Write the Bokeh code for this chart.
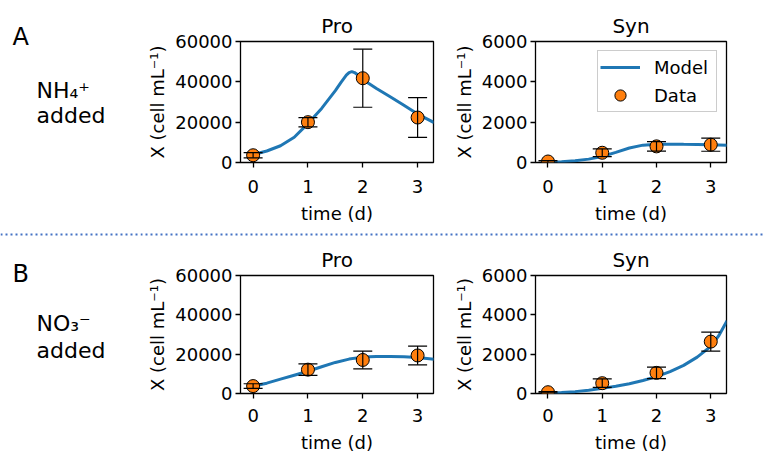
from bokeh.plotting import figure
from bokeh.layouts import row, column
from bokeh.models import (Range1d, FixedTicker, Whisker, TeeHead, ColumnDataSource,
                          Legend, LegendItem, Span)
from bokeh.core.properties import value
from bokeh.embed import file_html
from bokeh.resources import INLINE

FONT = "DejaVu Sans"

# ---------------- data ----------------
days = [0, 1, 2, 3]
x_ticks = [0, 1, 2, 3]
pro_ticks = [0, 20000, 40000, 60000]
syn_ticks = [0, 2000, 4000, 6000]

pro_nh4_mean = [3600, 20000, 41800, 22300]
pro_nh4_err = [1300, 2300, 14400, 9850]
syn_nh4_mean = [50, 483, 800, 883]
syn_nh4_err = [40, 190, 240, 325]
pro_no3_mean = [3770, 12130, 17050, 19340]
pro_no3_err = [1200, 2900, 4500, 4750]
syn_no3_mean = [66, 524, 1049, 2639]
syn_no3_err = [30, 215, 295, 480]

pro_nh4_model_t = [0, 0.25, 0.5, 0.75, 1.0, 1.25, 1.5, 1.6, 1.7, 1.75, 1.8, 1.85, 1.9, 2.0, 2.25, 2.5, 2.75, 3.0, 3.3]
pro_nh4_model_y = [3900, 5700, 8300, 12500, 19300, 26800, 35600, 39600, 43300, 44600, 45100, 44600, 43600, 41200, 36700, 32600, 28400, 24000, 19800]
syn_nh4_model_t = [0, 0.25, 0.5, 0.75, 1.0, 1.25, 1.5, 1.75, 2.0, 2.25, 2.5, 2.75, 3.0, 3.3]
syn_nh4_model_y = [10, 40, 85, 167, 300, 500, 717, 860, 905, 910, 900, 892, 883, 850]
pro_no3_model_t = [0, 0.25, 0.5, 0.75, 1.0, 1.25, 1.5, 1.75, 2.0, 2.25, 2.5, 2.75, 3.0, 3.3]
pro_no3_model_y = [3770, 5250, 7300, 9300, 11300, 13600, 15800, 17500, 18500, 18850, 18850, 18690, 18360, 17370]
syn_no3_model_t = [0, 0.25, 0.5, 0.75, 1.0, 1.25, 1.5, 1.75, 2.0, 2.25, 2.5, 2.75, 3.0, 3.15, 3.3]
syn_no3_model_y = [15, 45, 95, 165, 260, 370, 500, 660, 860, 1110, 1430, 1850, 2400, 2950, 3700]

panel_letters = ["A", "B"]
nutrients = ["NH\u2084\u207a", "NO\u2083\u207b"]


def panel(title, ymax, yticks, mt, my, mean, err, width, height,
          bl, br, bt, bb, tick_so, label_so, legend=False):
    p = figure(width=width, height=height, x_range=Range1d(-0.23, 3.29),
               y_range=Range1d(0, ymax), output_backend="svg", toolbar_location=None,
               min_border_left=bl, min_border_right=br, min_border_top=bt,
               min_border_bottom=bb, background_fill_color="white",
               border_fill_color="white")
    p.title.text = title
    p.title.align = "center"
    p.title.text_font = FONT
    p.title.text_font_size = "20px"
    p.title.text_font_style = "normal"
    p.title.text_color = "black"
    p.title.standoff = 7
    p.grid.visible = False
    p.outline_line_color = "black"
    p.outline_line_width = 1.3
    p.outline_line_alpha = 1
    p.xaxis.ticker = FixedTicker(ticks=x_ticks, minor_ticks=[])
    p.yaxis.ticker = FixedTicker(ticks=yticks, minor_ticks=[])
    p.xaxis.axis_label = "time (d)"
    p.yaxis.axis_label = "X (cell mL\u207b\u00b9)"
    for ax in p.axis:
        ax.axis_line_color = None
        ax.major_tick_line_color = "black"
        ax.major_tick_line_width = 1.3
        ax.major_tick_out = 5
        ax.major_tick_in = 0
        ax.minor_tick_line_color = None
        ax.major_label_text_font = FONT
        ax.major_label_text_font_size = "18px"
        ax.major_label_text_color = "black"
        ax.axis_label_text_font = FONT
        ax.axis_label_text_font_size = "18px"
        ax.axis_label_text_font_style = "normal"
        ax.axis_label_text_color = "black"
    p.xaxis.major_label_standoff = tick_so
    p.xaxis.axis_label_standoff = label_so
    p.yaxis.major_label_standoff = 3
    p.yaxis.axis_label_standoff = 4

    line_r = p.line(mt, my, line_color="#1f77b4", line_width=3)
    src = ColumnDataSource(dict(x=days, y=mean,
                                lo=[m - e for m, e in zip(mean, err)],
                                hi=[m + e for m, e in zip(mean, err)]))
    wh = Whisker(base="x", upper="hi", lower="lo", source=src,
                 line_color="black", line_width=1.2, level="glyph",
                 upper_head=TeeHead(size=19, line_color="black", line_width=1.2),
                 lower_head=TeeHead(size=19, line_color="black", line_width=1.2))
    p.add_layout(wh)
    sc = p.scatter("x", "y", source=src, size=13, fill_color="#ff7f0e",
                   line_color="black", line_width=1)
    if legend:
        lg = Legend(items=[LegendItem(label="Model", renderers=[line_r]),
                           LegendItem(label="Data", renderers=[sc])],
                    location="top_right")
        lg.margin = 9
        lg.padding = 2
        lg.spacing = 0
        lg.glyph_width = 40
        lg.glyph_height = 28
        lg.label_height = 28
        lg.label_width = 60
        lg.label_standoff = 14
        lg.label_text_font = FONT
        lg.label_text_font_size = "18px"
        lg.label_text_color = "black"
        lg.border_line_color = "#cccccc"
        lg.border_line_width = 1
        lg.border_line_alpha = 1
        lg.background_fill_alpha = 0.8
        p.add_layout(lg)
    return p


# left column: one figure whose data coordinates equal page pixels
lab = figure(width=140, height=455, x_range=Range1d(0, 140), y_range=Range1d(455, 0),
             output_backend="svg", toolbar_location=None, x_axis_type=None,
             y_axis_type=None, min_border=0, title=None)
lab.grid.visible = False
lab.outline_line_color = None
lab.text(x=[12, 12], y=[36, 273], text=panel_letters, text_font=value(FONT),
         text_font_size="24px", text_color="black", text_baseline="alphabetic")
lab.text(x=[36, 36, 36, 36], y=[90, 115, 323, 350],
         text=[nutrients[0], "added", nutrients[1], "added"], text_font=value(FONT),
         text_font_size="22px", text_color="black", text_baseline="alphabetic")
lab.add_layout(Span(location=234, dimension="width", line_color="#4472c4",
                    line_width=2, line_dash="2 3"))

# row A: page y 0..226, frame 41..162
H1 = 226
pa = panel("Pro", 60000, pro_ticks, pro_nh4_model_t, pro_nh4_model_y,
           pro_nh4_mean, pro_nh4_err, 310, H1, 100, 17, 41, 64, 12, 7)
sa = panel("Syn", 6000, syn_ticks, syn_nh4_model_t, syn_nh4_model_y,
           syn_nh4_mean, syn_nh4_err, 315, H1, 83, 39, 41, 64, 12, 7, legend=True)

# separator: page y 226..242, dotted line at 234
sep = figure(width=625, height=16, x_range=Range1d(0, 625), y_range=Range1d(16, 0),
             output_backend="svg", toolbar_location=None, x_axis_type=None,
             y_axis_type=None, min_border=0, title=None)
sep.grid.visible = False
sep.outline_line_color = None
sep.add_layout(Span(location=8, dimension="width", line_color="#4472c4",
                    line_width=2, line_dash="2 3"))

# row B: page y 242..455, frame 272..393
H2 = 213
pb = panel("Pro", 60000, pro_ticks, pro_no3_model_t, pro_no3_model_y,
           pro_no3_mean, pro_no3_err, 310, H2, 100, 17, 30, 62, 10, 7)
sb = panel("Syn", 6000, syn_ticks, syn_no3_model_t, syn_no3_model_y,
           syn_no3_mean, syn_no3_err, 315, H2, 83, 39, 30, 62, 10, 7)

layout = row(lab, column(row(pa, sa), sep, row(pb, sb)))

open("out.html", "w").write(file_html(layout, INLINE))
